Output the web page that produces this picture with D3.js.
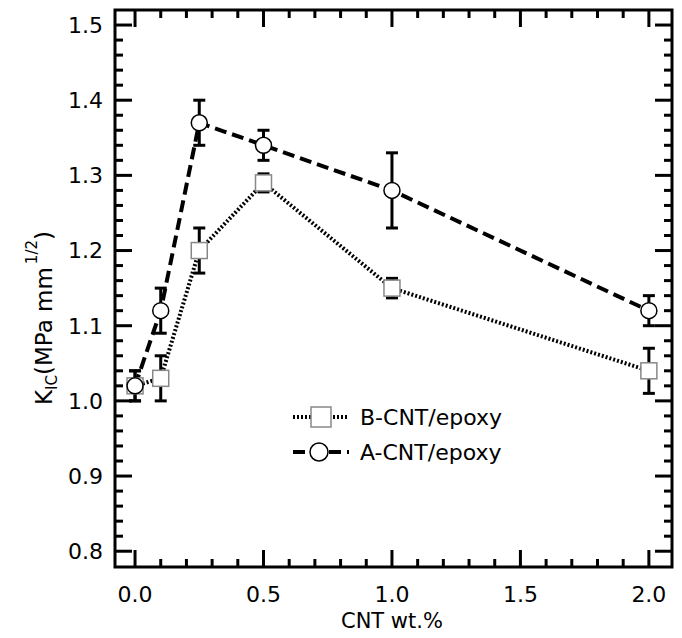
<!DOCTYPE html>
<html>
<head>
<meta charset="utf-8">
<script src="https://cdn.jsdelivr.net/npm/d3@7"></script>
<style>
  body { margin: 0; background: #fff; }
  text { font-family: "DejaVu Sans", Verdana, sans-serif; }
</style>
</head>
<body>
<div id="chart"></div>
<script>
// data
var cntWt = [0, 0.1, 0.25, 0.5, 1.0, 2.0];
var seriesNames = ["B-CNT/epoxy", "A-CNT/epoxy"];
var bValues = [1.02, 1.03, 1.20, 1.29, 1.15, 1.04];
var bErrors = [0.02, 0.03, 0.03, 0.012, 0.013, 0.03];
var aValues = [1.02, 1.12, 1.37, 1.34, 1.28, 1.12];
var aErrors = [0.02, 0.03, 0.03, 0.02, 0.05, 0.02];
var xTicks = [0.0, 0.5, 1.0, 1.5, 2.0];
var yTicks = [0.8, 0.9, 1.0, 1.1, 1.2, 1.3, 1.4, 1.5];

var width = 682;
var height = 638;
var plotLeft = 115, plotRight = 672, plotTop = 10, plotBottom = 567;

var svg = d3.select("#chart").append("svg")
  .attr("width", width)
  .attr("height", height);

var x = d3.scaleLinear().domain([-0.078, 2.09]).range([plotLeft, plotRight]);
var y = d3.scaleLinear().domain([0.779, 1.52]).range([plotBottom, plotTop]);

var xMinor = d3.range(0, 2.001, 0.1);
var yMinor = d3.range(0.8, 1.5001, 0.02);

// inward ticks on all four sides
function drawTicks() {
  var g = svg.append("g").attr("stroke", "#000").attr("stroke-width", 3);
  xMinor.forEach(function(v) {
    var major = xTicks.some(function(t){ return Math.abs(t - v) < 1e-6; });
    var len = major ? 17 : 8;
    g.append("line").attr("x1", x(v)).attr("x2", x(v)).attr("y1", plotBottom).attr("y2", plotBottom - len);
    g.append("line").attr("x1", x(v)).attr("x2", x(v)).attr("y1", plotTop).attr("y2", plotTop + len);
  });
  yMinor.forEach(function(v) {
    var major = yTicks.some(function(t){ return Math.abs(t - v) < 1e-6; });
    var len = major ? 17 : 8;
    g.append("line").attr("y1", y(v)).attr("y2", y(v)).attr("x1", plotLeft).attr("x2", plotLeft + len);
    g.append("line").attr("y1", y(v)).attr("y2", y(v)).attr("x1", plotRight).attr("x2", plotRight - len);
  });
}
drawTicks();

svg.append("rect")
  .attr("x", plotLeft).attr("y", plotTop)
  .attr("width", plotRight - plotLeft).attr("height", plotBottom - plotTop)
  .attr("fill", "none").attr("stroke", "#000").attr("stroke-width", 3);

svg.append("g").selectAll("text")
  .data(xTicks)
  .enter().append("text")
  .attr("x", function(d){ return x(d); })
  .attr("y", 602)
  .attr("text-anchor", "middle")
  .attr("font-size", "22px")
  .text(function(d){ return d3.format(".1f")(d); });

svg.append("g").selectAll("text")
  .data(yTicks)
  .enter().append("text")
  .attr("x", 103)
  .attr("y", function(d){ return y(d); })
  .attr("dy", "0.36em")
  .attr("text-anchor", "end")
  .attr("font-size", "22px")
  .text(function(d){ return d3.format(".1f")(d); });

svg.append("text")
  .attr("x", x(1.0))
  .attr("y", 628)
  .attr("text-anchor", "middle")
  .attr("font-size", "21px")
  .text("CNT wt.%");

var yLabel = svg.append("text")
  .attr("transform", "translate(52,318) rotate(-90)")
  .attr("text-anchor", "middle")
  .attr("font-size", "23px");
yLabel.append("tspan").text("K");
yLabel.append("tspan").attr("font-size", "15px").attr("dy", 5).text("IC");
yLabel.append("tspan").attr("dy", -5).text("(MPa mm");
yLabel.append("tspan").attr("font-size", "15px").attr("dy", -15).attr("dx", 3).text("1/2");
yLabel.append("tspan").attr("dy", 15).text(")");

var line = d3.line()
  .x(function(d){ return x(d.x); })
  .y(function(d){ return y(d.y); });

function toPoints(vals, errs) {
  return cntWt.map(function(v, i){ return {x: v, y: vals[i], e: errs[i]}; });
}
var bData = toPoints(bValues, bErrors);
var aData = toPoints(aValues, aErrors);

var bDash = "2,2";
var aDash = "12,6";

svg.append("path")
  .datum(bData)
  .attr("d", line)
  .attr("fill", "none")
  .attr("stroke", "#000")
  .attr("stroke-width", 4)
  .attr("stroke-dasharray", bDash);

svg.append("path")
  .datum(aData)
  .attr("d", line)
  .attr("fill", "none")
  .attr("stroke", "#000")
  .attr("stroke-width", 4)
  .attr("stroke-dasharray", aDash);

function errorBars(data) {
  var g = svg.append("g").attr("stroke", "#000").attr("stroke-width", 3);
  data.forEach(function(d) {
    var cx = x(d.x);
    g.append("line").attr("x1", cx).attr("x2", cx).attr("y1", y(d.y - d.e)).attr("y2", y(d.y + d.e));
    g.append("line").attr("x1", cx - 6).attr("x2", cx + 6).attr("y1", y(d.y - d.e)).attr("y2", y(d.y - d.e));
    g.append("line").attr("x1", cx - 6).attr("x2", cx + 6).attr("y1", y(d.y + d.e)).attr("y2", y(d.y + d.e));
  });
}
errorBars(bData);
errorBars(aData);

svg.append("g").selectAll("rect")
  .data(bData)
  .enter().append("rect")
  .attr("x", function(d){ return x(d.x) - 8; })
  .attr("y", function(d){ return y(d.y) - 8; })
  .attr("width", 16)
  .attr("height", 16)
  .attr("fill", "#fff")
  .attr("stroke", "#888")
  .attr("stroke-width", 1.5);

svg.append("g").selectAll("circle")
  .data(aData)
  .enter().append("circle")
  .attr("cx", function(d){ return x(d.x); })
  .attr("cy", function(d){ return y(d.y); })
  .attr("r", 8)
  .attr("fill", "#fff")
  .attr("stroke", "#000")
  .attr("stroke-width", 1.5);

// legend
var legend = svg.append("g");
var rows = [
  {name: seriesNames[0], dash: bDash, y: 417, marker: "square"},
  {name: seriesNames[1], dash: aDash, y: 452, marker: "circle"}
];
rows.forEach(function(r) {
  legend.append("line")
    .attr("x1", 293).attr("x2", 349).attr("y1", r.y).attr("y2", r.y)
    .attr("stroke", "#000").attr("stroke-width", 4)
    .attr("stroke-dasharray", r.dash);
  if (r.marker === "square") {
    legend.append("rect")
      .attr("x", 321 - 10).attr("y", r.y - 10).attr("width", 20).attr("height", 20)
      .attr("fill", "#fff").attr("stroke", "#888").attr("stroke-width", 1.5);
  } else {
    legend.append("circle")
      .attr("cx", 319).attr("cy", r.y).attr("r", 9)
      .attr("fill", "#fff").attr("stroke", "#000").attr("stroke-width", 1.5);
  }
  legend.append("text")
    .attr("x", 360).attr("y", r.y).attr("dy", "0.36em")
    .attr("font-size", "22px")
    .text(r.name);
});
</script>
</body>
</html>
